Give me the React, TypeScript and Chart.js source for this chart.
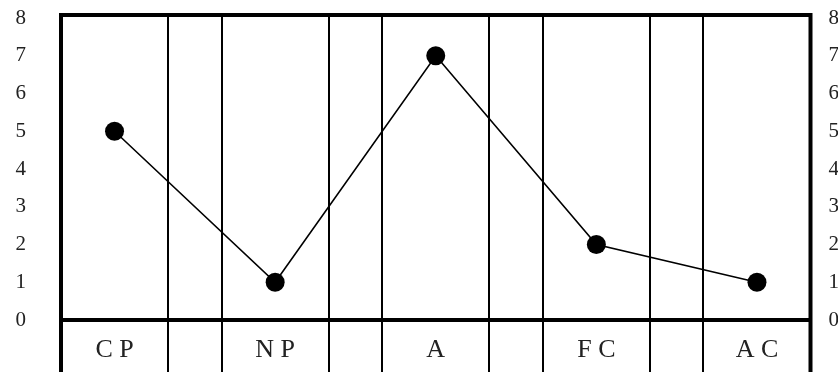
import React, { useEffect, useRef } from "react";
import { Chart, registerables } from "chart.js";

Chart.register(...registerables);

const categories = ["C P", "N P", "A", "F C", "A C"];
const values = [5, 1, 7, 2, 1];
const yTicks = [0, 1, 2, 3, 4, 5, 6, 7, 8];

const SERIF = "'Liberation Serif', 'Times New Roman', serif";
const TEXT = "#222";

const framePlugin = {
  id: "framePlugin",
  afterDraw(chart: any) {
    const { ctx, chartArea, scales } = chart;
    const x = scales.x;
    const y = scales.y;
    ctx.save();
    ctx.strokeStyle = "#000";
    ctx.lineWidth = 4;
    ctx.lineCap = "butt";
    ctx.lineJoin = "miter";
    // frame
    ctx.beginPath();
    ctx.moveTo(chartArea.left, chartArea.bottom);
    ctx.lineTo(chartArea.left, chartArea.top);
    ctx.lineTo(chartArea.right, chartArea.top);
    ctx.lineTo(chartArea.right, chartArea.bottom);
    ctx.stroke();
    // zero line
    const y0 = y.getPixelForValue(0);
    ctx.beginPath();
    ctx.moveTo(chartArea.left, y0);
    ctx.lineTo(chartArea.right, y0);
    ctx.stroke();
    // category labels
    ctx.fillStyle = TEXT;
    ctx.font = `26px ${SERIF}`;
    ctx.textAlign = "center";
    ctx.textBaseline = "alphabetic";
    const ly = y.getPixelForValue(-0.98);
    categories.forEach((c, i) => {
      ctx.fillText(c, x.getPixelForValue(i), ly);
    });
    ctx.restore();
  },
};

export default function App() {
  const ref = useRef<HTMLCanvasElement>(null);
  useEffect(() => {
    if (!ref.current) return;
    const boundaries: number[] = [];
    for (let i = 0; i < categories.length - 1; i++) {
      boundaries.push(i + 1 / 3, i + 2 / 3);
    }
    const chart = new Chart(ref.current, {
      type: "line",
      data: {
        datasets: [
          {
            data: values.map((v, i) => ({ x: i, y: v })),
            borderColor: "#000",
            borderWidth: 1.6,
            pointRadius: 9.5,
            pointBorderWidth: 0,
            pointBackgroundColor: "#000",
            fill: false,
            tension: 0,
          },
        ],
      },
      options: {
        responsive: false,
        animation: false,
        layout: { autoPadding: false, padding: { top: 15, left: 0, right: 0, bottom: 0 } },
        plugins: { legend: { display: false }, tooltip: { enabled: false } },
        scales: {
          x: {
            type: "linear",
            min: -1 / 3,
            max: categories.length - 1 + 1 / 3,
            afterBuildTicks: (s: any) => {
              s.ticks = boundaries.map((v) => ({ value: v }));
            },
            afterFit: (s: any) => {
              s.height = 0;
              s.paddingLeft = 0;
              s.paddingRight = 0;
            },
            ticks: { display: false },
            border: { display: false },
            grid: { color: "#000", lineWidth: 2, drawTicks: false },
          },
          y: {
            type: "linear",
            position: "left",
            min: -2.383,
            max: 8.08,
            afterBuildTicks: (s: any) => {
              s.ticks = yTicks.map((v) => ({ value: v }));
            },
            afterFit: (s: any) => {
              s.width = 61;
              s.paddingTop = 0;
              s.paddingBottom = 0;
            },
            ticks: {
              padding: 35,
              color: TEXT,
              font: { family: SERIF, size: 21 },
            },
            border: { display: false },
            grid: { display: false, drawTicks: false },
          },
          y2: {
            type: "linear",
            position: "right",
            min: -2.383,
            max: 8.08,
            afterBuildTicks: (s: any) => {
              s.ticks = yTicks.map((v) => ({ value: v }));
            },
            afterFit: (s: any) => {
              s.width = 27.5;
              s.paddingTop = 0;
              s.paddingBottom = 0;
            },
            ticks: {
              padding: 18,
              color: TEXT,
              font: { family: SERIF, size: 21 },
            },
            border: { display: false },
            grid: { display: false, drawTicks: false },
          },
        },
      },
      plugins: [framePlugin],
    } as any);
    return () => chart.destroy();
  }, []);
  return (
    <div
      style={{
        position: "absolute",
        top: 0,
        left: 0,
        width: 838,
        height: 372,
        overflow: "hidden",
        background: "#fff",
      }}
    >
      <canvas ref={ref} width={838} height={410} style={{ display: "block" }} />
    </div>
  );
}
